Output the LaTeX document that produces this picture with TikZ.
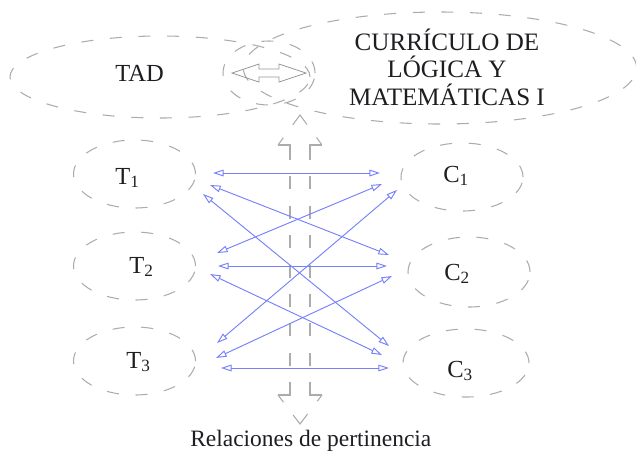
\documentclass[tikz,border=0pt]{standalone}
\usepackage{fontspec}
\setmainfont{Liberation Serif}
\usetikzlibrary{shapes.geometric,arrows.meta}
\definecolor{dashgray}{RGB}{172,172,172}
\definecolor{arrgray}{RGB}{150,150,150}
\definecolor{linkblue}{RGB}{118,128,250}
\definecolor{ink}{RGB}{30,30,34}
\tikzset{
  ell/.style={ellipse,draw=dashgray,line width=0.8pt,dash pattern=on 9pt off 12.5pt,inner sep=0pt},
  lbl/.style={text=ink,inner sep=0pt,anchor=base west,font=\fontsize{18.4}{22}\selectfont},
  currlbl/.style={text=ink,inner sep=0pt,anchor=base,font=\fontsize{18.8}{22}\selectfont},
  link/.style={draw=linkblue,line width=0.7pt,{Triangle[open,length=8pt,width=5pt]}-{Triangle[open,length=8pt,width=5pt]}},
  shaftdash/.style={draw=dashgray,line width=0.8pt,line join=miter,
    dash pattern=on 20.25pt off 12.3pt on 9.75pt off 12.3pt on 9.75pt off 12.3pt on 9.75pt off 12.3pt on 9.75pt off 12.3pt on 9.75pt off 12.3pt on 9.75pt off 12.3pt on 9.75pt off 12.3pt on 18.75pt off 60pt},
  headdash/.style={draw=dashgray,line width=0.8pt,line join=miter,
    dash pattern=on 6.75pt off 12pt on 18pt off 12pt on 6.75pt off 60pt},
  blocksolid/.style={draw=arrgray,line width=0.6pt}
}
\begin{document}
\begin{tikzpicture}[x=0.75pt,y=-0.75pt]
\useasboundingbox (0,0) rectangle (636,451);

% top ellipses
\node[ell,minimum width=225pt,minimum height=61.5pt] (tadE) at (160,77) {};
\node[ell,minimum width=295pt,minimum height=84pt] (curE) at (440,68) {};
\node[ell,minimum width=69pt,minimum height=48pt] (midE) at (269,73) {};

\node[lbl] (tad) at (115,81) {TAD};
\node[currlbl] (cur1) at (447,50) {CURRÍCULO DE};
\node[currlbl] (cur2) at (447,77.5) {LÓGICA Y};
\node[currlbl] (cur3) at (447,105) {MATEMÁTICAS I};

% horizontal double block arrow
\draw[blocksolid] (232,73) -- (259,64) -- (259,69) -- (279,69) -- (279,64) -- (306,73)
  -- (279,82) -- (279,77) -- (259,77) -- (259,82) -- cycle;

% vertical dashed double block arrow
\coordinate (vtip) at (300,115);
\coordinate (vbot) at (300,424);
\draw[shaftdash] (278,145) -- (290,145) -- (290,395) -- (278,395);
\draw[shaftdash] (322,145) -- (310,145) -- (310,395) -- (322,395);
\draw[headdash] (278,145) -- (vtip) -- (322,145);
\draw[headdash] (278,395) -- (vbot) -- (322,395);

% T ellipses
\node[ell,minimum width=91.5pt,minimum height=51pt] (T1E) at (134.5,174) {};
\node[ell,minimum width=91.5pt,minimum height=51pt] (T2E) at (134.5,266) {};
\node[ell,minimum width=91.5pt,minimum height=51pt] (T3E) at (134.5,361) {};
\node[lbl] (T1) at (115,184) {T\textsubscript{1}};
\node[lbl] (T2) at (129,273) {T\textsubscript{2}};
\node[lbl] (T3) at (126,368) {T\textsubscript{3}};

% C ellipses
\node[ell,minimum width=91.5pt,minimum height=51pt] (C1E) at (462,177) {};
\node[ell,minimum width=91.5pt,minimum height=52.5pt] (C2E) at (469,272) {};
\node[ell,minimum width=94.5pt,minimum height=51pt] (C3E) at (466,363) {};
\node[lbl] (C1) at (443,182) {C\textsubscript{1}};
\node[lbl] (C2) at (444,280) {C\textsubscript{2}};
\node[lbl] (C3) at (447,377) {C\textsubscript{3}};

% arrow end points
\coordinate (t1a) at (213,173); \coordinate (c1a) at (380,173);
\coordinate (t1b) at (210,185); \coordinate (c2a) at (389,255);
\coordinate (t1c) at (203,194); \coordinate (c3a) at (389,346);
\coordinate (t2a) at (217,253); \coordinate (c1b) at (382,184);
\coordinate (t2b) at (218,266); \coordinate (c2b) at (387,266);
\coordinate (t2c) at (210,274); \coordinate (c3b) at (382,355);
\coordinate (t3a) at (217,343); \coordinate (c1c) at (397,190);
\coordinate (t3b) at (216,358); \coordinate (c2c) at (392,276);
\coordinate (t3c) at (221,368); \coordinate (c3c) at (389,368);

\draw[link] (t1a) -- (c1a);
\draw[link] (t1b) -- (c2a);
\draw[link] (t1c) -- (c3a);
\draw[link] (t2a) -- (c1b);
\draw[link] (t2b) -- (c2b);
\draw[link] (t2c) -- (c3b);
\draw[link] (t3a) -- (c1c);
\draw[link] (t3b) -- (c2c);
\draw[link] (t3c) -- (c3c);

\node[text=ink,inner sep=0pt,anchor=base west,font=\fontsize{17.6}{21}\selectfont] (rel) at (190,446) {Relaciones de pertinencia};
\end{tikzpicture}
\end{document}
